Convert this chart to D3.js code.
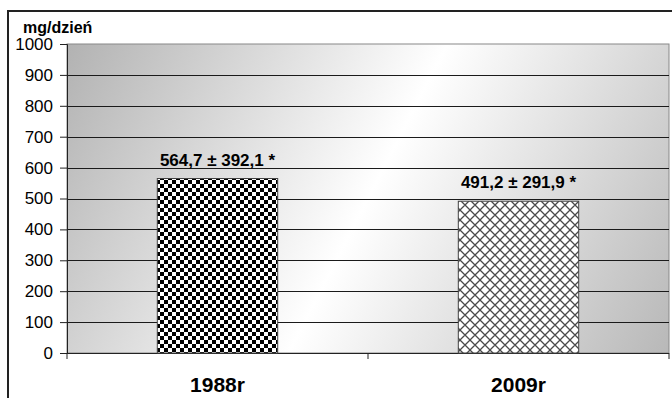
<!DOCTYPE html>
<html><head><meta charset="utf-8">
<script src="https://cdn.jsdelivr.net/npm/d3@7"></script>
<style>body{margin:0;background:#fff}svg{display:block}</style>
</head><body>
<script>
const categories = ["1988r", "2009r"];
const values = [564.7, 491.2];
const labels = ["564,7 ± 392,1 *", "491,2 ± 291,9 *"];
const yTicks = [0,100,200,300,400,500,600,700,800,900,1000];
const unit = "mg/dzień";

const W = 672, H = 398;
const m = {left: 67, right: 3, top: 44, bottom: 45};
const FONT = "Liberation Sans, Arial, sans-serif";
const svg = d3.select("body").append("svg").attr("width", W).attr("height", H);
const defs = svg.append("defs");

const g1 = defs.append("linearGradient").attr("id","bg").attr("gradientUnits","userSpaceOnUse")
  .attr("x1", m.left).attr("y1", m.top).attr("x2", W-m.right).attr("y2", H-m.bottom);
g1.append("stop").attr("offset","0").attr("stop-color","#b2b2b2");
g1.append("stop").attr("offset","0.5").attr("stop-color","#ffffff");
g1.append("stop").attr("offset","1").attr("stop-color","#b8b8b8");

const p1 = defs.append("pattern").attr("id","checker").attr("patternUnits","userSpaceOnUse")
  .attr("width",8).attr("height",8);
p1.append("rect").attr("width",8).attr("height",8).attr("fill","#fff");
p1.append("rect").attr("width",4).attr("height",4).attr("fill","#000");
p1.append("rect").attr("x",4).attr("y",4).attr("width",4).attr("height",4).attr("fill","#000");

const p2 = defs.append("pattern").attr("id","cross").attr("patternUnits","userSpaceOnUse")
  .attr("width",10).attr("height",10);
p2.append("rect").attr("width",10).attr("height",10).attr("fill","#fff");
p2.append("path").attr("d","M0,0L10,10M10,0L0,10M-5,5L0,10M5,-5L10,0M5,15L10,10M15,5L10,0")
  .attr("stroke","#4a4a4a").attr("stroke-width",1.3);

const x = d3.scaleBand().domain(categories).range([m.left, W-m.right]).paddingInner(0.6).paddingOuter(0.3);
const y = d3.scaleLinear().domain([0,1000]).range([H-m.bottom, m.top]);

// outer frame
svg.append("path").attr("d",`M8,${H}L8,11L${W},11`).attr("fill","none").attr("stroke","#222").attr("stroke-width",2);

// plot bg
svg.append("rect").attr("x",m.left).attr("y",m.top).attr("width",W-m.right-m.left).attr("height",H-m.bottom-m.top)
  .attr("fill","url(#bg)").attr("stroke","#888").attr("stroke-width",1);

// grid
svg.append("g").selectAll("line").data(yTicks.filter(d=>d>0 && d<1000)).join("line")
  .attr("x1",m.left).attr("x2",W-m.right).attr("y1",d=>Math.round(y(d))+0.5).attr("y2",d=>Math.round(y(d))+0.5)
  .attr("stroke","#1a1a1a").attr("stroke-width",1);

// y axis
const ya = svg.append("g").attr("transform",`translate(${m.left},0)`)
  .call(d3.axisLeft(y).tickValues(yTicks).tickFormat(d3.format("d")).tickSize(7).tickPadding(7));
ya.select(".domain").attr("stroke","#222");
ya.selectAll(".tick line").attr("stroke","#222");
ya.selectAll("text").attr("font-family",FONT).attr("font-size",17).attr("fill","#000");

// x axis
const xa = svg.append("g").attr("transform",`translate(0,${H-m.bottom})`);
xa.append("line").attr("x1",m.left).attr("x2",W-m.right).attr("y1",0.5).attr("y2",0.5).attr("stroke","#222");
const xt = [m.left, (m.left+W-m.right)/2, W-m.right];
xa.selectAll("line.t").data(xt).join("line").attr("class","t")
  .attr("x1",d=>d).attr("x2",d=>d).attr("y1",0).attr("y2",6).attr("stroke","#222");
xa.selectAll("text").data(categories).join("text")
  .attr("x",d=>x(d)+x.bandwidth()/2).attr("y",39).attr("text-anchor","middle")
  .attr("font-family",FONT).attr("font-weight","bold").attr("font-size",21)
  .text(d=>d);

// bars
const fills = ["url(#checker)","url(#cross)"];
svg.append("g").selectAll("rect").data(values).join("rect")
  .attr("x",(d,i)=>x(categories[i])).attr("width",x.bandwidth())
  .attr("y",d=>y(d)).attr("height",d=>y(0)-y(d))
  .attr("fill",(d,i)=>fills[i]).attr("stroke","#444").attr("stroke-width",1);

// value labels
svg.append("g").selectAll("text").data(values).join("text")
  .attr("x",(d,i)=>x(categories[i])+x.bandwidth()/2).attr("y",d=>y(d)-13)
  .attr("text-anchor","middle").attr("font-family",FONT)
  .attr("font-weight","bold").attr("font-size",17).text((d,i)=>labels[i]);

// unit label
svg.append("text").attr("x",23).attr("y",33).attr("font-family",FONT)
  .attr("font-weight","bold").attr("font-size",16).text(unit);
</script>
</body></html>
